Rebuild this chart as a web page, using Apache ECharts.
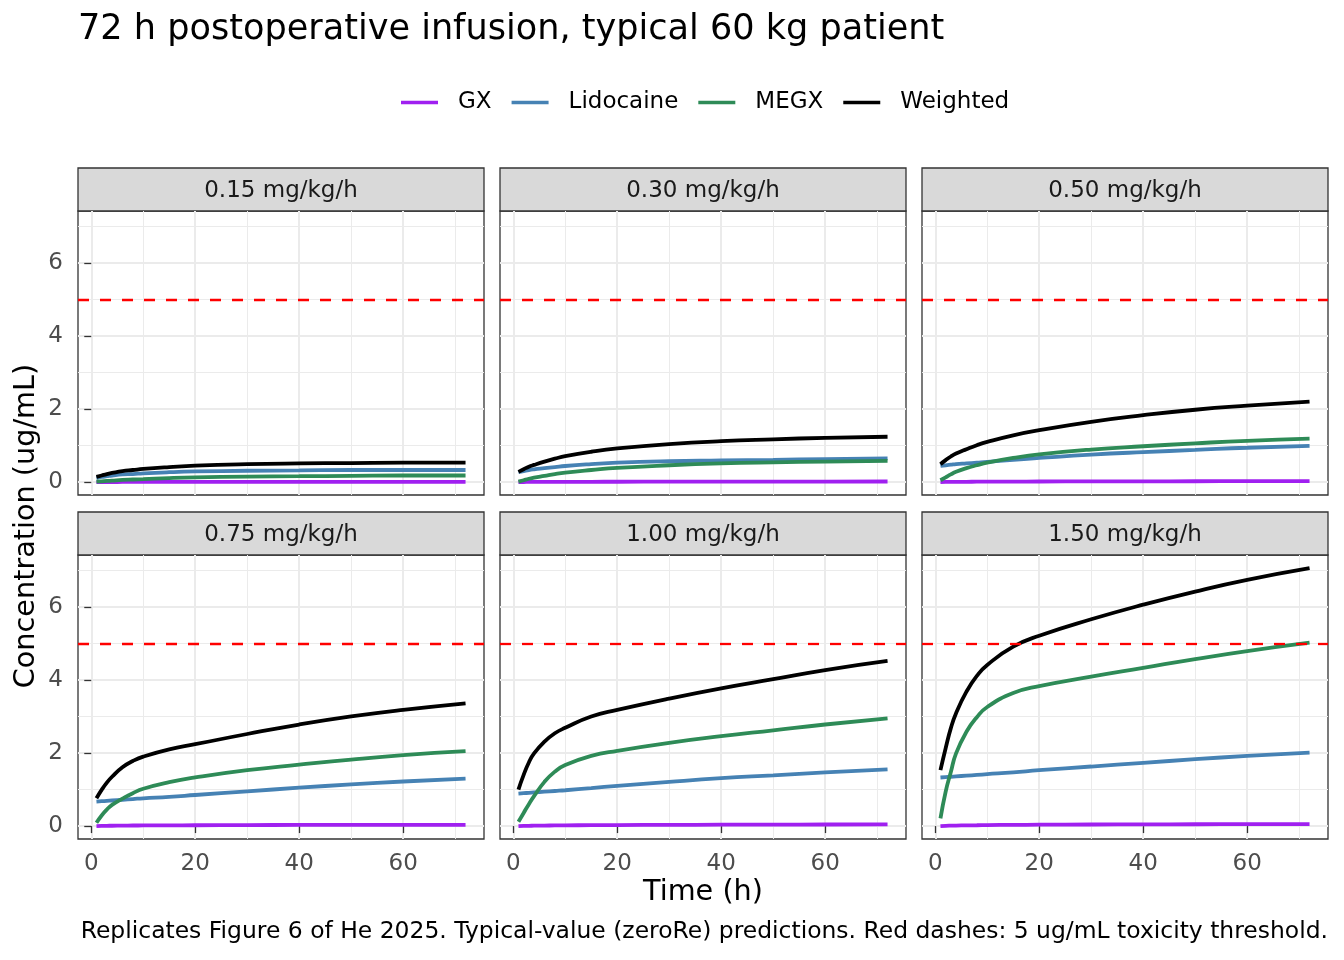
<!DOCTYPE html>
<html>
<head>
<meta charset="utf-8">
<script src="https://cdn.jsdelivr.net/npm/echarts@6/dist/echarts.min.js"></script>
<style>
  body { margin: 0; background: #fff; }
  #main { width: 1344px; height: 960px; }
</style>
</head>
<body>
<div id="main"></div>
<script>
var time = [1, 2, 3, 4, 6, 8, 10, 15, 20, 30, 40, 50, 60, 72];
var doses = ['0.15 mg/kg/h', '0.30 mg/kg/h', '0.50 mg/kg/h', '0.75 mg/kg/h', '1.00 mg/kg/h', '1.50 mg/kg/h'];
var xTicks = [0, 20, 40, 60];
var yTicks = [0, 2, 4, 6];
var threshold = 5;

var gx_015   = [0.000, 0.001, 0.002, 0.002, 0.003, 0.004, 0.004, 0.005, 0.006, 0.007, 0.007, 0.008, 0.008, 0.008];
var lido_015 = [0.11, 0.14, 0.16, 0.18, 0.21, 0.22, 0.24, 0.27, 0.29, 0.31, 0.32, 0.33, 0.33, 0.33];
var megx_015 = [0.01, 0.02, 0.03, 0.04, 0.06, 0.07, 0.08, 0.11, 0.13, 0.15, 0.16, 0.17, 0.18, 0.18];
var wt_015   = [0.14, 0.18, 0.22, 0.25, 0.30, 0.33, 0.36, 0.41, 0.45, 0.49, 0.51, 0.52, 0.53, 0.53];

var gx_030   = [0.000, 0.002, 0.003, 0.004, 0.005, 0.006, 0.007, 0.008, 0.009, 0.011, 0.012, 0.013, 0.014, 0.015];
var lido_030 = [0.27, 0.30, 0.33, 0.35, 0.38, 0.41, 0.44, 0.49, 0.53, 0.57, 0.59, 0.61, 0.63, 0.65];
var megx_030 = [0.01, 0.05, 0.09, 0.12, 0.17, 0.22, 0.26, 0.33, 0.39, 0.46, 0.51, 0.54, 0.56, 0.58];
var wt_030   = [0.28, 0.35, 0.42, 0.47, 0.56, 0.64, 0.71, 0.83, 0.92, 1.04, 1.12, 1.17, 1.21, 1.24];

var gx_050   = [0.000, 0.003, 0.005, 0.006, 0.008, 0.010, 0.011, 0.013, 0.015, 0.018, 0.020, 0.022, 0.024, 0.025];
var lido_050 = [0.44, 0.46, 0.475, 0.49, 0.51, 0.53, 0.55, 0.61, 0.66, 0.75, 0.82, 0.88, 0.94, 0.99];
var megx_050 = [0.05, 0.13, 0.21, 0.28, 0.38, 0.46, 0.53, 0.66, 0.76, 0.89, 0.98, 1.06, 1.13, 1.19];
var wt_050   = [0.49, 0.60, 0.70, 0.78, 0.90, 1.01, 1.10, 1.28, 1.42, 1.65, 1.83, 1.98, 2.09, 2.20];

var gx_075   = [0.000, 0.004, 0.007, 0.009, 0.012, 0.015, 0.017, 0.020, 0.023, 0.027, 0.030, 0.032, 0.034, 0.035];
var lido_075 = [0.67, 0.68, 0.69, 0.70, 0.72, 0.74, 0.76, 0.80, 0.85, 0.95, 1.05, 1.14, 1.22, 1.30];
var megx_075 = [0.09, 0.29, 0.45, 0.58, 0.75, 0.90, 1.02, 1.20, 1.33, 1.53, 1.68, 1.82, 1.94, 2.05];
var wt_075   = [0.76, 0.99, 1.19, 1.35, 1.61, 1.78, 1.90, 2.10, 2.24, 2.52, 2.78, 3.00, 3.18, 3.36];

var gx_100   = [0.000, 0.005, 0.008, 0.010, 0.014, 0.017, 0.020, 0.025, 0.028, 0.033, 0.037, 0.040, 0.043, 0.045];
var lido_100 = [0.89, 0.90, 0.91, 0.92, 0.94, 0.96, 0.98, 1.04, 1.10, 1.21, 1.31, 1.39, 1.47, 1.55];
var megx_100 = [0.12, 0.36, 0.60, 0.82, 1.21, 1.49, 1.67, 1.92, 2.06, 2.28, 2.46, 2.62, 2.78, 2.95];
var wt_100   = [1.00, 1.40, 1.74, 1.99, 2.31, 2.54, 2.69, 3.00, 3.18, 3.49, 3.77, 4.02, 4.27, 4.52];

var gx_150   = [0.000, 0.007, 0.011, 0.014, 0.019, 0.023, 0.027, 0.033, 0.037, 0.043, 0.047, 0.050, 0.053, 0.055];
var lido_150 = [1.33, 1.34, 1.35, 1.36, 1.38, 1.40, 1.42, 1.47, 1.53, 1.63, 1.73, 1.83, 1.92, 2.01];
var megx_150 = [0.21, 0.94, 1.48, 1.99, 2.58, 2.98, 3.26, 3.64, 3.83, 4.09, 4.33, 4.57, 4.79, 5.02];
var wt_150   = [1.53, 2.13, 2.68, 3.09, 3.68, 4.11, 4.41, 4.91, 5.21, 5.66, 6.06, 6.42, 6.74, 7.06];

window.onload = function(){
  var panels = [
    [gx_015, lido_015, megx_015, wt_015],
    [gx_030, lido_030, megx_030, wt_030],
    [gx_050, lido_050, megx_050, wt_050],
    [gx_075, lido_075, megx_075, wt_075],
    [gx_100, lido_100, megx_100, wt_100],
    [gx_150, lido_150, megx_150, wt_150]
  ];
  var names = ['GX', 'Lidocaine', 'MEGX', 'Weighted'];
  var colors = ['#A020F0', '#4682B4', '#2E8B57', '#000000'];

  var font = 'DejaVu Sans';
  var colLeft = [78, 500, 922];
  var panelW = 406;
  var rowTop = [211, 555];
  var panelH = 284;
  var stripH = 43;

  var grids = [], xAxes = [], yAxes = [], series = [], graphics = [];

  function pairs(vals){
    return time.map(function(t, i){ return [t, vals[i]]; });
  }

  for (var p = 0; p < 6; p++) {
    var col = p % 3, row = Math.floor(p / 3);
    var left = colLeft[col], top = rowTop[row];
    grids.push({
      left: left, top: top, width: panelW, height: panelH,
      show: true, borderColor: '#333333', borderWidth: 1.3, backgroundColor: '#fff'
    });
    var bottomRow = row === 1, leftCol = col === 0;
    // major axis (data + ticks)
    xAxes.push({
      type: 'value', gridIndex: p, min: -2.55, max: 75.55,
      axisLine: { show: false },
      axisTick: { show: bottomRow, length: 7, customValues: xTicks, lineStyle: { color: '#333333', width: 1.3 } },
      axisLabel: { show: bottomRow, customValues: xTicks, margin: 14, color: '#4D4D4D', fontSize: 23, fontFamily: font },
      splitLine: { show: true, lineStyle: { color: '#EBEBEB', width: 2 } }
    });
    // minor grid lines
    xAxes.push({
      type: 'value', gridIndex: p, min: -2.55, max: 75.55, position: 'bottom',
      axisLine: { show: false },
      axisTick: { show: false, customValues: [10, 30, 50, 70] },
      axisLabel: { show: false, customValues: [10, 30, 50, 70] },
      splitLine: { show: true, lineStyle: { color: '#EBEBEB', width: 1 } }
    });
    yAxes.push({
      type: 'value', gridIndex: p, min: -0.354, max: 7.42,
      axisLine: { show: false },
      axisTick: { show: leftCol, length: 7, customValues: yTicks, lineStyle: { color: '#333333', width: 1.3 } },
      axisLabel: { show: leftCol, customValues: yTicks, margin: 15, color: '#4D4D4D', fontSize: 23, fontFamily: font },
      splitLine: { show: true, lineStyle: { color: '#EBEBEB', width: 2 } }
    });
    yAxes.push({
      type: 'value', gridIndex: p, min: -0.354, max: 7.42, position: 'left',
      axisLine: { show: false },
      axisTick: { show: false, customValues: [1, 3, 5, 7] },
      axisLabel: { show: false, customValues: [1, 3, 5, 7] },
      splitLine: { show: true, lineStyle: { color: '#EBEBEB', width: 1 } }
    });

    for (var s = 0; s < 4; s++) {
      var ser = {
        name: names[s], type: 'line', xAxisIndex: p * 2, yAxisIndex: p * 2,
        data: pairs(panels[p][s]),
        showSymbol: false, smooth: 0.5,
        lineStyle: { color: colors[s], width: 3.8 },
        itemStyle: { color: colors[s] },
        z: 3
      };
      if (s === 3) {
        ser.markLine = {
          silent: true, symbol: 'none', z: 5,
          label: { show: false },
          lineStyle: { color: '#FF0000', type: [11, 11], width: 2.3 },
          data: [{ yAxis: threshold }]
        };
      }
      series.push(ser);
    }

    // facet strip
    graphics.push({
      type: 'rect', shape: { x: left, y: top - stripH, width: panelW, height: stripH },
      style: { fill: '#D9D9D9', stroke: '#333333', lineWidth: 1.3 }
    });
    graphics.push({
      type: 'text', x: left + panelW / 2, y: top - stripH / 2 + 1.5,
      style: { text: doses[p], align: 'center', verticalAlign: 'middle', fill: '#1A1A1A', font: '23px "DejaVu Sans"' }
    });
  }

  graphics.push({
    type: 'text', x: 78, y: 30,
    style: { text: '72 h postoperative infusion, typical 60 kg patient', align: 'left', verticalAlign: 'middle', fill: '#000', font: '35.1px "DejaVu Sans"' }
  });
  graphics.push({
    type: 'text', x: 703, y: 893,
    style: { text: 'Time (h)', align: 'center', verticalAlign: 'middle', fill: '#000', font: '28.7px "DejaVu Sans"' }
  });
  graphics.push({
    type: 'text', x: 27, y: 526, rotation: Math.PI / 2,
    style: { text: 'Concentration (ug/mL)', align: 'center', verticalAlign: 'middle', fill: '#000', font: '28.7px "DejaVu Sans"' }
  });
  graphics.push({
    type: 'text', x: 1328, y: 932,
    style: { text: 'Replicates Figure 6 of He 2025. Typical-value (zeroRe) predictions. Red dashes: 5 ug/mL toxicity threshold.', align: 'right', verticalAlign: 'middle', fill: '#000', font: '23.45px "DejaVu Sans"' }
  });

  var option = {
    animation: false,
    backgroundColor: '#fff',
    legend: {
      data: names, left: 401, top: 91, padding: 0,
      icon: 'rect', itemWidth: 37, itemHeight: 3.5, itemGap: 20,
      textStyle: { fontSize: 23, fontFamily: font, color: '#000', padding: [0, 0, 0, 15] }
    },
    grid: grids,
    xAxis: xAxes,
    yAxis: yAxes,
    series: series,
    graphic: graphics
  };

  var myChart = echarts.init(document.getElementById('main'));
  myChart.setOption(option);
};
</script>
</body>
</html>
